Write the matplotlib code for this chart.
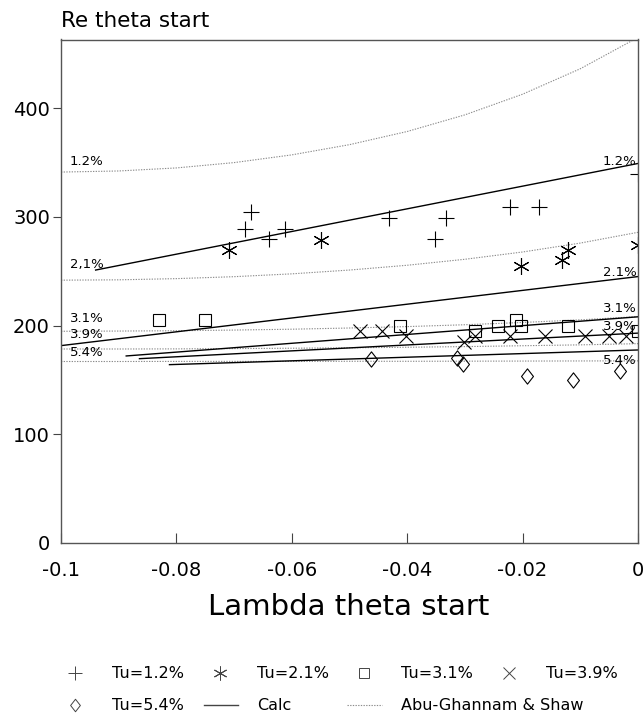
import matplotlib
matplotlib.use("Agg")
import matplotlib.pyplot as plt
from matplotlib.lines import Line2D
from matplotlib.path import Path

plt.rcParams['font.family'] = ['DejaVu Sans']
plt.rcParams['axes.unicode_minus'] = False

# ---------------- data ----------------
# Abu-Ghannam & Shaw curves
AG_X = [-0.1, -0.09, -0.08, -0.07, -0.06, -0.05, -0.04, -0.03, -0.02, -0.01, 0.0]
AG_12 = [341.1, 342.1, 344.9, 349.8, 356.9, 366.3, 378.4, 393.7, 412.7, 436.1, 464.9]
AG_21 = [241.7, 242.0, 243.1, 244.9, 247.5, 251.0, 255.4, 260.9, 267.6, 275.8, 285.7]
AG_31 = [194.7, 194.9, 195.2, 195.8, 196.6, 197.7, 199.0, 200.7, 202.8, 205.2, 208.2]
AG_39 = [178.4, 178.4, 178.5, 178.8, 179.1, 179.5, 180.0, 180.6, 181.4, 182.2, 183.3]
AG_54 = [166.9, 166.9, 167.0, 167.0, 167.0, 167.1, 167.1, 167.2, 167.3, 167.4, 167.5]

# Calc lines
CALC_12_X, CALC_12_Y = [-0.094, 0.0], [251.0, 349.0]
CALC_21_X, CALC_21_Y = [-0.1, 0.0], [181.5, 245.0]
CALC_31_X, CALC_31_Y = [-0.0887, 0.0], [172.0, 208.0]
CALC_39_X, CALC_39_Y = [-0.0864, 0.0], [169.5, 193.0]
CALC_54_X, CALC_54_Y = [-0.0812, 0.0], [164.0, 177.5]

# Measurements
TU12_X = [-0.0681, -0.0670, -0.0639, -0.0611, -0.0432, -0.0352, -0.0332, -0.0221, -0.0171, 0.0]
TU12_Y = [289, 304, 280, 289, 299, 280, 299, 309, 309, 339]
TU21_X = [-0.0709, -0.0550, -0.0202, -0.0131, -0.0121, 0.0]
TU21_Y = [269, 279, 255, 260, 269, 274]
TU31_X = [-0.0830, -0.0750, -0.0413, -0.0283, -0.0242, -0.0212, -0.0202, -0.0122, 0.0]
TU31_Y = [205, 205, 200, 195, 200, 205, 200, 200, 195]
TU39_X = [-0.0482, -0.0443, -0.0402, -0.0301, -0.0283, -0.0222, -0.0162, -0.0092, -0.0051, -0.0021]
TU39_Y = [195, 195, 190, 185, 190, 190, 190, 190, 190, 190]
TU54_X = [-0.0463, -0.0313, -0.0303, -0.0193, -0.0112, -0.0032]
TU54_Y = [169, 170, 165, 154, 150, 158]

# curve annotations
LEFT_LABELS = ['1.2%', '2,1%', '3.1%', '3.9%', '5.4%']
LEFT_LABEL_Y = [351, 256, 206.5, 191.5, 175.5]
RIGHT_LABELS = ['1.2%', '2.1%', '3.1%', '3.9%', '5.4%']
RIGHT_LABEL_Y = [351, 249, 215.5, 199, 167.5]

X_TICKS = [-0.1, -0.08, -0.06, -0.04, -0.02, 0.0]
X_TICKLABELS = ['-0.1', '-0.08', '-0.06', '-0.04', '-0.02', '0']
Y_TICKS = [0, 100, 200, 300, 400]

# ---------------- figure ----------------
W, H = 643, 716
fig = plt.figure(figsize=(W / 100, H / 100), dpi=100)
ax = fig.add_axes([61 / W, 1 - 543 / H, 577 / W, (543 - 39.5) / H])

ag_style = dict(color='#8c8c8c', lw=0.8, ls=(0, (1.2, 1.2)))
for yy in (AG_12, AG_21, AG_31, AG_39, AG_54):
    ax.plot(AG_X, yy, **ag_style)

calc_style = dict(color='black', lw=1.0)
for xx, yy in ((CALC_12_X, CALC_12_Y), (CALC_21_X, CALC_21_Y), (CALC_31_X, CALC_31_Y),
               (CALC_39_X, CALC_39_Y), (CALC_54_X, CALC_54_Y)):
    ax.plot(xx, yy, **calc_style)

diamond = Path([(0, 1), (0.78, 0), (0, -1), (-0.78, 0), (0, 1)],
               [Path.MOVETO, Path.LINETO, Path.LINETO, Path.LINETO, Path.CLOSEPOLY])

mk = dict(ls='none', color='black', mfc='none', mew=0.8)
ax.plot(TU12_X, TU12_Y, marker='+', ms=12, **mk)
ax.plot(TU21_X, TU21_Y, marker=(6, 2, 0), ms=12, **mk)
ax.plot(TU31_X, TU31_Y, marker='s', ms=9, **mk)
ax.plot(TU39_X, TU39_Y, marker='x', ms=10, **mk)
ax.plot(TU54_X, TU54_Y, marker=diamond, ms=11, **mk)

for lab, yv in zip(LEFT_LABELS, LEFT_LABEL_Y):
    ax.text(-0.0985, yv, lab, fontsize=9.5, ha='left', va='center')
for lab, yv in zip(RIGHT_LABELS, RIGHT_LABEL_Y):
    ax.text(-0.0003, yv, lab, fontsize=9.5, ha='right', va='center')

ax.set_xlim(-0.1, 0.0)
ax.set_ylim(0, 463)
ax.set_xticks(X_TICKS)
ax.set_xticklabels(X_TICKLABELS)
ax.set_yticks(Y_TICKS)
ax.tick_params(axis='x', direction='in', length=7, width=0.8, pad=13,
               labelsize=14, color='#444444')
ax.tick_params(axis='y', direction='out', length=6, width=0.8, pad=2,
               labelsize=14, color='#444444')
ax.yaxis.get_major_ticks()[0].tick1line.set_visible(False)
for s in ax.spines.values():
    s.set_color('#555555')
    s.set_linewidth(1.0)

fig.text(61 / W, 1 - 27 / H, 'Re theta start', fontsize=15.5, ha='left', va='baseline')
fig.text(349 / W, 1 - 607 / H, 'Lambda theta start', fontsize=21, ha='center', va='center')

# ---------------- legend (manual grid) ----------------
entries = [
    (0, 0, 'Tu=1.2%', dict(marker='+', ms=10)),
    (0, 1, 'Tu=2.1%', dict(marker=(6, 2, 0), ms=10)),
    (0, 2, 'Tu=3.1%', dict(marker='s', ms=7)),
    (0, 3, 'Tu=3.9%', dict(marker='x', ms=8)),
    (1, 0, 'Tu=5.4%', dict(marker=diamond, ms=9)),
    (1, 1, 'Calc', 'solid'),
    (1, 2, 'Abu-Ghannam & Shaw', 'dotted'),
]
row_y = [673, 705]
col_x = [112, 257, 401, 546]
for r, c, lab, h in entries:
    ty = 1 - row_y[r] / H
    tx = col_x[c] / W
    if h == 'solid':
        fig.add_artist(Line2D([(col_x[c] - 53) / W, (col_x[c] - 19) / W], [ty, ty],
                              transform=fig.transFigure, color='#444444', lw=1.0))
    elif h == 'dotted':
        fig.add_artist(Line2D([(col_x[c] - 54) / W, (col_x[c] - 19) / W], [ty, ty],
                              transform=fig.transFigure, **ag_style))
    else:
        fig.add_artist(Line2D([(col_x[c] - 37) / W], [ty], transform=fig.transFigure,
                              ls='none', color='#444444', mfc='none', mew=0.7, **h))
    fig.text(tx, ty, lab, fontsize=11.5, ha='left', va='center')

fig.savefig('out.png', dpi=100)
